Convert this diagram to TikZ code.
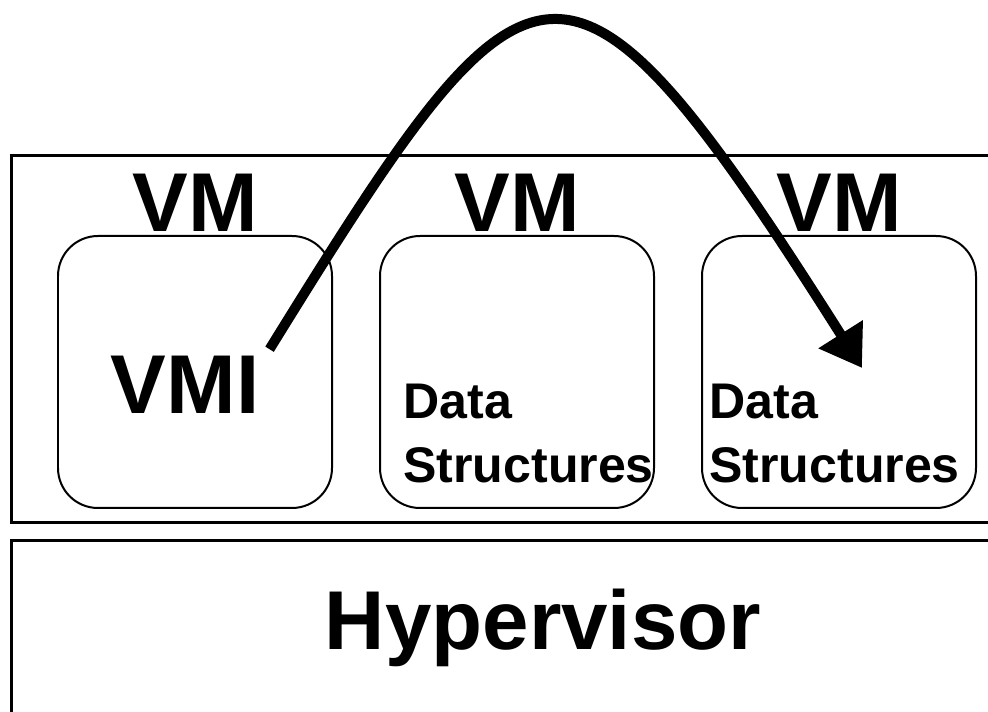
\documentclass[tikz,border=0pt]{standalone}
\usepackage{fontspec}
\setmainfont{Liberation Sans}
\usetikzlibrary{positioning,arrows.meta}

\begin{document}
\begin{tikzpicture}
\tikzstyle{every node}+=[inner sep=0pt]
\tikzstyle{frame}=[black,line width=0.06cm]
\tikzstyle{vmbox}=[draw=black,line width=0.04cm,rounded corners=0.8cm,minimum width=5.48cm,minimum height=5.44cm]
\tikzstyle{big}=[font=\fontsize{47.5}{56}\selectfont\bfseries]
\tikzstyle{small}=[font=\fontsize{28.5}{36.5}\selectfont\bfseries,align=left,anchor=base west]
\useasboundingbox (0,0) rectangle (19.76,-14.24);
\clip (0,0) rectangle (19.76,-14.24);
% frames, open to the right
\draw [frame] (0.23,-3.12) rectangle (21,-10.46);
\draw [frame] (0.23,-10.82) rectangle (21,-16);
% guests
\node [vmbox] (g1) at (3.9,-7.44) {};
\node [vmbox,right=0.92cm of g1] (g2) {};
\node [vmbox,right=0.92cm of g2] (g3) {};
\node [big,anchor=base] (l1) at ([yshift=0.06cm]g1.north) {VM};
\node [big,anchor=base] (l2) at ([yshift=0.06cm]g2.north) {VM};
\node [big,anchor=base] (l3) at ([yshift=0.06cm]g3.north) {VM};
\node [big,anchor=base] (vmi) at ([xshift=-0.2cm,yshift=-0.84cm]g1.center) {VMI};
\node [small] (d2) at ([xshift=0.48cm,yshift=-2.22cm]g2.west) {Data\\Structures};
\node [small] (d3) at ([xshift=0.16cm,yshift=-2.22cm]g3.west) {Data\\Structures};
\node [big,anchor=base] (hv) at (10.86,-13.0) {Hypervisor};
% introspection
\coordinate (src) at ([xshift=0.2cm,yshift=0.14cm]vmi.north east);
\coordinate (dst) at (17.24,-7.36);
\draw [black,line width=0.2cm,-{Triangle[length=0.8cm,width=1.0cm]}] (src) .. controls (10.64,1.5) and (11.28,2.05) .. (dst);
\end{tikzpicture}
\end{document}
